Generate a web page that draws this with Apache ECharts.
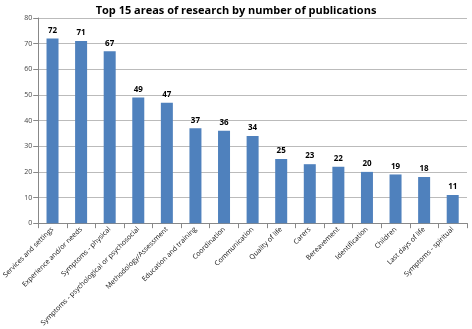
<!DOCTYPE html>
<html>
<head>
<meta charset="utf-8">
<script src="https://cdn.jsdelivr.net/npm/echarts@6/dist/echarts.min.js"></script>
<style>
  html, body { margin: 0; padding: 0; background: #fff; }
  #chart { width: 472px; height: 329px; }
</style>
</head>
<body>
<div id="chart"></div>
<script>
let categories = [
  'Services and settings', 'Experience and/or needs', 'Symptoms - physical',
  'Symptoms - psychological or psychosocial', 'Methodology/Assessment',
  'Education and training', 'Coordination', 'Communication', 'Quality of life',
  'Carers', 'Bereavement', 'Identification', 'Children', 'Last days of life',
  'Symptoms - spiritual'
];
let publications = [72, 71, 67, 49, 47, 37, 36, 34, 25, 23, 22, 20, 19, 18, 11];

let option = {
  animation: false,
  title: {
    text: 'Top 15 areas of research by number of publications',
    left: 'center',
    top: 0,
    textStyle: { fontFamily: 'Open Sans', fontSize: 11, fontWeight: 'bold', color: '#000' }
  },
  grid: { left: 32, right: 5, top: 18, bottom: 103, containLabel: false },
  xAxis: {
    type: 'category',
    data: categories,
    axisLine: { lineStyle: { color: '#888' } },
    axisTick: { show: true, alignWithLabel: false, lineStyle: { color: '#888' } },
    axisLabel: {
      interval: 0, rotate: 45, fontSize: 7, color: '#111',
      fontFamily: 'Open Sans', margin: 5
    }
  },
  yAxis: {
    type: 'value',
    min: 0, max: 80, interval: 10,
    axisLine: { show: true, lineStyle: { color: '#888' } },
    axisTick: { show: true, lineStyle: { color: '#888' } },
    axisLabel: { fontSize: 7, color: '#444', fontFamily: 'Open Sans', margin: 6 },
    splitLine: { lineStyle: { color: '#bbb' } }
  },
  series: [{
    type: 'bar',
    data: publications,
    barWidth: 12,
    itemStyle: { color: '#4f81bd' },
    label: {
      show: true, position: 'top', fontSize: 8, fontWeight: 'bold',
      color: '#000', fontFamily: 'Open Sans', distance: 4
    }
  }]
};

let chart = echarts.init(document.getElementById('chart'));
chart.setOption(option);
</script>
</body>
</html>
